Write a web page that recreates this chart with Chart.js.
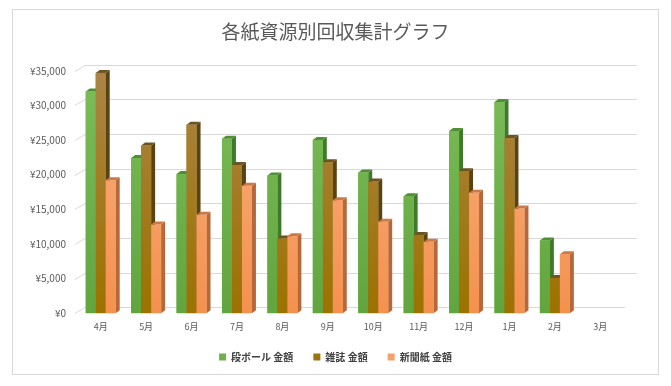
<!DOCTYPE html>
<html>
<head>
<meta charset="utf-8">
<script src="https://cdn.jsdelivr.net/npm/chart.js@4"></script>
<style>
  body { margin: 0; background: #fff; }
</style>
</head>
<body>
<canvas id="myChart" width="671" height="386"></canvas>
<script>
const months = ['4月', '5月', '6月', '7月', '8月', '9月', '10月', '11月', '12月', '1月', '2月', '3月'];
const cardboard = [32000, 22400, 20100, 25200, 19900, 25000, 20300, 16900, 26300, 30500, 10500, null];
const magazines = [34700, 24200, 27200, 21400, 10800, 21800, 19000, 11300, 20500, 25300, 5100, null];
const newspapers = [19200, 12800, 14200, 18400, 11100, 16300, 13200, 10300, 17400, 15100, 8500, null];
const yTicks = [0, 5000, 10000, 15000, 20000, 25000, 30000, 35000];

const fontJp = '"Noto Sans CJK JP", "Noto Sans", sans-serif';
const dx = 4, dy = 3;

// front gradient top/bottom, side, top face
const faces = [
  { top: '#7cbd58', bottom: '#62a53f', side: '#3e7a28', cap: '#4f8f35' },
  { top: '#ab8446', bottom: '#9c7200', side: '#5a4310', cap: '#6e5322' },
  { top: '#f9b080', bottom: '#f4914f', side: '#b5683a', cap: '#c87a48' }
];

// 奥の壁のグリッド線
const backGrid = {
  id: 'backGrid',
  beforeDatasetsDraw(chart) {
    const ctx = chart.ctx;
    const y = chart.scales.y;
    const area = chart.chartArea;
    ctx.save();
    ctx.strokeStyle = '#d9d9d9';
    ctx.lineWidth = 1;
    yTicks.forEach(v => {
      const py = Math.round(y.getPixelForValue(v)) - 5.5;
      ctx.beginPath();
      ctx.moveTo(area.left - 3, py + 6);
      ctx.lineTo(area.left + 7, py);
      ctx.lineTo(v === 0 ? area.right + 2 : area.right + 14, py);
      ctx.stroke();
    });
    ctx.restore();
  }
};

// 3D風の棒
const bar3d = {
  id: 'bar3d',
  afterDatasetsDraw(chart) {
    const ctx = chart.ctx;
    const area = chart.chartArea;
    ctx.save();
    chart.data.datasets.forEach((ds, i) => {
      const f = faces[i];
      const meta = chart.getDatasetMeta(i);
      const grad = ctx.createLinearGradient(0, area.top, 0, area.bottom);
      grad.addColorStop(0, f.top);
      grad.addColorStop(1, f.bottom);
      meta.data.forEach((bar, j) => {
        if (ds.data[j] == null) return;
        const p = bar.getProps(['x', 'y', 'base', 'width'], true);
        const l = p.x - p.width / 2, r = p.x + p.width / 2;
        ctx.fillStyle = f.side;
        ctx.beginPath();
        ctx.moveTo(r, p.y);
        ctx.lineTo(r + dx, p.y - dy);
        ctx.lineTo(r + dx, p.base - dy);
        ctx.lineTo(r, p.base);
        ctx.closePath();
        ctx.fill();
        ctx.fillStyle = f.cap;
        ctx.beginPath();
        ctx.moveTo(l, p.y);
        ctx.lineTo(l + dx, p.y - dy);
        ctx.lineTo(r + dx, p.y - dy);
        ctx.lineTo(r, p.y);
        ctx.closePath();
        ctx.fill();
        ctx.fillStyle = grad;
        ctx.fillRect(l, p.y, p.width, p.base - p.y);
      });
    });
    ctx.restore();
  }
};

const frame = {
  id: 'frame',
  beforeDraw(chart) {
    const ctx = chart.ctx;
    ctx.save();
    ctx.fillStyle = '#fff';
    ctx.fillRect(0, 0, chart.width, chart.height);
    ctx.strokeStyle = '#d9d9d9';
    ctx.strokeRect(12.5, 9.5, 646, 365);
    ctx.restore();
  }
};

new Chart(document.getElementById('myChart'), {
  type: 'bar',
  data: {
    labels: months,
    datasets: [
      { label: '段ボール 金額', data: cardboard, backgroundColor: '#6fb04b', yAxisID: 'y' },
      { label: '雑誌 金額', data: magazines, backgroundColor: '#9c7410', yAxisID: 'y' },
      { label: '新聞紙 金額', data: newspapers, backgroundColor: '#f6a06a', yAxisID: 'y' }
    ]
  },
  options: {
    responsive: false,
    animation: false,
    devicePixelRatio: 1,
    categoryPercentage: 0.66,
    barPercentage: 1,
    layout: { padding: { left: 20, right: 20, bottom: 14 } },
    plugins: {
      title: {
        display: true,
        text: '各紙資源別回収集計グラフ',
        color: '#595959',
        font: { family: fontJp, size: 19, weight: 'normal' },
        padding: { top: 20, bottom: 28 }
      },
      legend: {
        position: 'bottom',
        labels: {
          boxWidth: 7,
          boxHeight: 7,
          padding: 20,
          color: '#404040',
          font: { family: fontJp, size: 10, weight: 'bold' }
        }
      },
      tooltip: { enabled: false }
    },
    scales: {
      x: {
        grid: { display: false },
        border: { display: false },
        ticks: { color: '#595959', padding: 0, font: { family: fontJp, size: 9 } }
      },
      y: {
        min: 0,
        max: 35000,
        afterFit: s => { s.width = 58; },
        grid: { display: false },
        border: { display: false },
        ticks: {
          stepSize: 5000,
          padding: 4,
          color: '#595959',
          font: { family: fontJp, size: 10 },
          callback: v => '¥' + v.toLocaleString('ja-JP')
        }
      },
      // 右側の余白用
      y2: {
        position: 'right',
        afterFit: s => { s.width = 28; },
        grid: { display: false },
        border: { display: false },
        ticks: { display: false }
      }
    }
  },
  plugins: [frame, backGrid, bar3d]
});
</script>
</body>
</html>
